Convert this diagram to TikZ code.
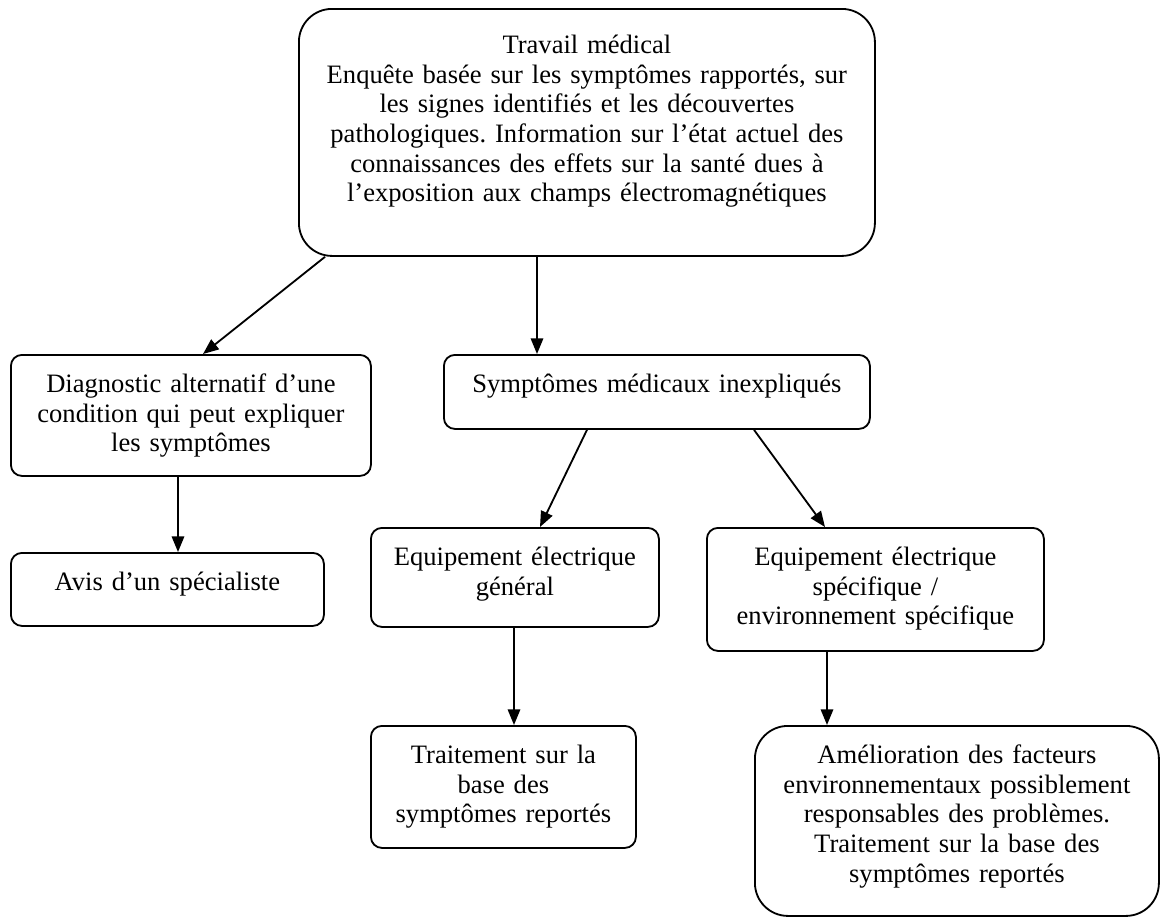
\documentclass[tikz,border=0pt]{standalone}
\usepackage{fontspec}
\setmainfont{Liberation Serif}
\usetikzlibrary{calc, arrows.meta}
\frenchspacing
\newdimen\px
\px=0.025cm

\begin{document}
\begin{tikzpicture}[x=0.025cm, y=-0.025cm,
		box/.style={draw, line width=1.3pt, rounded corners=11\px, anchor=north west, inner sep=0pt, align=center, text height=38\px, font=\fontsize{18.9pt}{21pt}\selectfont},
		arr/.style={line width=1.3pt, -{Triangle[length=0.39cm, width=0.31cm]}}]
			\useasboundingbox (0, 0) rectangle (1160, 917);
			
			\node[box, rounded corners=33\px, text width=576\px, text height=45\px, text depth=202\px] (travail) at (298, 8) {Travail médical\\Enquête basée sur les symptômes rapportés, sur\\les signes identifiés et les découvertes\\pathologiques. Information sur l’état actuel des\\connaissances des effets sur la santé dues à\\l’exposition aux champs électromagnétiques};
			
			\node[box, text width=360\px, text depth=83\px] (diag) at (10, 354) {Diagnostic alternatif d’une\\condition qui peut expliquer\\les symptômes};
			\node[box, text width=426\px, text depth=36\px] (sympt) at (443, 354) {Symptômes médicaux inexpliqués};
			\node[box, text width=313\px, text depth=35\px] (avis) at (10, 552) {Avis d’un spécialiste};
			
			\node[box, text width=288\px, text depth=61\px] (general) at (370, 527) {Equipement électrique\\général};
			\node[box, text width=337\px, text depth=85\px] (specif) at (706, 527) {Equipement électrique\\spécifique /\\environnement spécifique};
			
			\node[box, text width=265\px, text depth=84\px] (traitement) at (370, 725) {Traitement sur la\\base des\\symptômes reportés};
			\node[box, rounded corners=33\px, text width=404\px, text depth=152\px] (amelior) at (754, 725) {Amélioration des facteurs\\environnementaux possiblement\\responsables des problèmes.\\Traitement sur la base des\\symptômes reportés};
			
			\draw[arr] ($(travail.south west)+(27, 0)$) -- ($(diag.north west)+(193, 0)$);
			\draw[arr] ($(travail.south west)+(239, 0)$) -- ($(sympt.north west)+(94, 0)$);
			\draw[arr] ($(diag.south west)+(168, 0)$) -- ($(avis.north west)+(168, 0)$);
			\draw[arr] ($(sympt.south west)+(144, 0)$) -- ($(general.north west)+(170, 0)$);
			\draw[arr] ($(sympt.south west)+(311, 0)$) -- ($(specif.north west)+(119, 0)$);
			\draw[arr] ($(general.south west)+(144, 0)$) -- ($(traitement.north west)+(144, 0)$);
			\draw[arr] ($(specif.south west)+(121, 0)$) -- ($(amelior.north west)+(73, 0)$);
			
		\end{tikzpicture}
\end{document}
